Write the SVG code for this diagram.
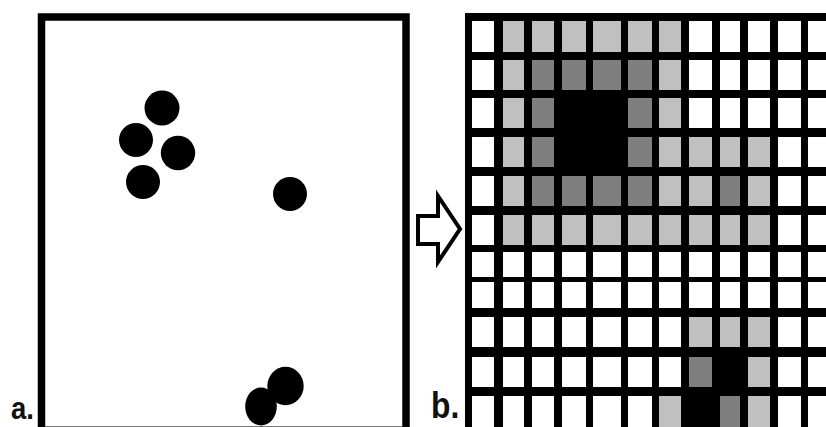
<svg xmlns="http://www.w3.org/2000/svg" width="826" height="427" viewBox="0 0 826 427">
<style>
.w{fill:#ffffff}.l{fill:#c0c0c0}.d{fill:#7f7f7f}
.dot{fill:#000}
.lbl{font-family:"Liberation Sans",Arial,sans-serif;font-weight:bold;fill:#111}
</style>
<rect x="0" y="0" width="826" height="427" fill="#fff"/>
<g id="panel-a">
<rect x="41.5" y="17" width="364.5" height="420" fill="#fff" stroke="#000" stroke-width="7.5"/>
<line x1="45" y1="426.5" x2="402" y2="426.5" stroke="#777" stroke-width="1"/>
<circle class="dot" cx="162" cy="108" r="17.5"/>
<circle class="dot" cx="136" cy="140" r="17"/>
<circle class="dot" cx="178" cy="153" r="17.2"/>
<circle class="dot" cx="143" cy="182" r="17"/>
<circle class="dot" cx="290" cy="194" r="17"/>
<ellipse class="dot" cx="285.5" cy="386" rx="18.2" ry="19.2"/>
<ellipse class="dot" cx="261" cy="406.5" rx="15.8" ry="19"/>
<text class="lbl" x="0" y="0" font-size="32" transform="translate(11,419) scale(0.86,1)">a.</text>
</g>
<g id="arrow">
<polygon points="418,216 438,216 438,196 460,229 438,262 438,244 418,244" fill="#fff" stroke="#000" stroke-width="4" stroke-linejoin="miter"/>
</g>
<g id="panel-b">
<rect x="465" y="13" width="361" height="414" fill="#000"/>
<!-- row 1 -->
<g transform="translate(0,21)">
<rect class="w" x="472" width="22" height="31"/><rect class="l" x="503" width="21" height="31"/><rect class="l" x="532" width="22" height="31"/><rect class="l" x="562" width="24" height="31"/><rect class="l" x="593" width="28" height="31"/><rect class="l" x="628" width="24" height="31"/><rect class="l" x="659" width="22" height="31"/><rect class="w" x="689" width="23" height="31"/><rect class="w" x="720" width="20" height="31"/><rect class="w" x="748" width="22" height="31"/><rect class="w" x="778" width="23" height="31"/><rect class="w" x="808" width="22" height="31"/>
</g>
<!-- row 2 -->
<g transform="translate(0,60)">
<rect class="w" x="472" width="22" height="30"/><rect class="l" x="503" width="21" height="30"/><rect class="d" x="532" width="22" height="30"/><rect class="d" x="562" width="24" height="30"/><rect class="d" x="593" width="28" height="30"/><rect class="d" x="628" width="24" height="30"/><rect class="l" x="659" width="22" height="30"/><rect class="w" x="689" width="23" height="30"/><rect class="w" x="720" width="20" height="30"/><rect class="w" x="748" width="22" height="30"/><rect class="w" x="778" width="23" height="30"/><rect class="w" x="808" width="22" height="30"/>
</g>
<!-- row 3 -->
<g transform="translate(0,98)">
<rect class="w" x="472" width="22" height="30"/><rect class="l" x="503" width="21" height="30"/><rect class="d" x="532" width="22" height="30"/><rect class="d" x="628" width="24" height="30"/><rect class="l" x="659" width="22" height="30"/><rect class="w" x="689" width="23" height="30"/><rect class="w" x="720" width="20" height="30"/><rect class="w" x="748" width="22" height="30"/><rect class="w" x="778" width="23" height="30"/><rect class="w" x="808" width="22" height="30"/>
</g>
<!-- row 4 -->
<g transform="translate(0,137)">
<rect class="w" x="472" width="22" height="30"/><rect class="l" x="503" width="21" height="30"/><rect class="d" x="532" width="22" height="30"/><rect class="d" x="628" width="24" height="30"/><rect class="l" x="659" width="22" height="30"/><rect class="l" x="689" width="23" height="30"/><rect class="l" x="720" width="20" height="30"/><rect class="l" x="748" width="22" height="30"/><rect class="w" x="778" width="23" height="30"/><rect class="w" x="808" width="22" height="30"/>
</g>
<!-- row 5 -->
<g transform="translate(0,176)">
<rect class="w" x="472" width="22" height="30"/><rect class="l" x="503" width="21" height="30"/><rect class="d" x="532" width="22" height="30"/><rect class="d" x="562" width="24" height="30"/><rect class="d" x="593" width="28" height="30"/><rect class="d" x="628" width="24" height="30"/><rect class="l" x="659" width="22" height="30"/><rect class="l" x="689" width="23" height="30"/><rect class="d" x="720" width="20" height="30"/><rect class="l" x="748" width="22" height="30"/><rect class="w" x="778" width="23" height="30"/><rect class="w" x="808" width="22" height="30"/>
</g>
<!-- row 6 -->
<g transform="translate(0,215)">
<rect class="w" x="472" width="22" height="30"/><rect class="l" x="503" width="21" height="30"/><rect class="l" x="532" width="22" height="30"/><rect class="l" x="562" width="24" height="30"/><rect class="l" x="593" width="28" height="30"/><rect class="l" x="628" width="24" height="30"/><rect class="l" x="659" width="22" height="30"/><rect class="l" x="689" width="23" height="30"/><rect class="l" x="720" width="20" height="30"/><rect class="l" x="748" width="22" height="30"/><rect class="w" x="778" width="23" height="30"/><rect class="w" x="808" width="22" height="30"/>
</g>
<!-- row 7 -->
<g transform="translate(0,252)">
<rect class="w" x="472" width="22" height="25"/><rect class="w" x="503" width="21" height="25"/><rect class="w" x="532" width="22" height="25"/><rect class="w" x="562" width="24" height="25"/><rect class="w" x="593" width="28" height="25"/><rect class="w" x="628" width="24" height="25"/><rect class="w" x="659" width="22" height="25"/><rect class="w" x="689" width="23" height="25"/><rect class="w" x="720" width="20" height="25"/><rect class="w" x="748" width="22" height="25"/><rect class="w" x="778" width="23" height="25"/><rect class="w" x="808" width="22" height="25"/>
</g>
<!-- row 8 -->
<g transform="translate(0,282)">
<rect class="w" x="472" width="22" height="26"/><rect class="w" x="503" width="21" height="26"/><rect class="w" x="532" width="22" height="26"/><rect class="w" x="562" width="24" height="26"/><rect class="w" x="593" width="28" height="26"/><rect class="w" x="628" width="24" height="26"/><rect class="w" x="659" width="22" height="26"/><rect class="w" x="689" width="23" height="26"/><rect class="w" x="720" width="20" height="26"/><rect class="w" x="748" width="22" height="26"/><rect class="w" x="778" width="23" height="26"/><rect class="w" x="808" width="22" height="26"/>
</g>
<!-- row 9 -->
<g transform="translate(0,317)">
<rect class="w" x="472" width="22" height="30"/><rect class="w" x="503" width="21" height="30"/><rect class="w" x="532" width="22" height="30"/><rect class="w" x="562" width="24" height="30"/><rect class="w" x="593" width="28" height="30"/><rect class="w" x="628" width="24" height="30"/><rect class="w" x="659" width="22" height="30"/><rect class="l" x="689" width="23" height="30"/><rect class="l" x="720" width="20" height="30"/><rect class="l" x="748" width="22" height="30"/><rect class="w" x="778" width="23" height="30"/><rect class="w" x="808" width="22" height="30"/>
</g>
<!-- row 10 -->
<g transform="translate(0,357)">
<rect class="w" x="472" width="22" height="30"/><rect class="w" x="503" width="21" height="30"/><rect class="w" x="532" width="22" height="30"/><rect class="w" x="562" width="24" height="30"/><rect class="w" x="593" width="28" height="30"/><rect class="w" x="628" width="24" height="30"/><rect class="w" x="659" width="22" height="30"/><rect class="d" x="689" width="23" height="30"/><rect class="l" x="748" width="22" height="30"/><rect class="w" x="778" width="23" height="30"/><rect class="w" x="808" width="22" height="30"/>
</g>
<!-- row 11 -->
<g transform="translate(0,396)">
<rect class="w" x="472" width="22" height="34"/><rect class="w" x="503" width="21" height="34"/><rect class="w" x="532" width="22" height="34"/><rect class="w" x="562" width="24" height="34"/><rect class="w" x="593" width="28" height="34"/><rect class="w" x="628" width="24" height="34"/><rect class="l" x="659" width="22" height="34"/><rect class="d" x="720" width="20" height="34"/><rect class="l" x="748" width="22" height="34"/><rect class="w" x="778" width="23" height="34"/><rect class="w" x="808" width="22" height="34"/>
</g>
<text class="lbl" x="0" y="0" font-size="37" transform="translate(431,418) scale(0.86,1)">b.</text>
</g>
</svg>
